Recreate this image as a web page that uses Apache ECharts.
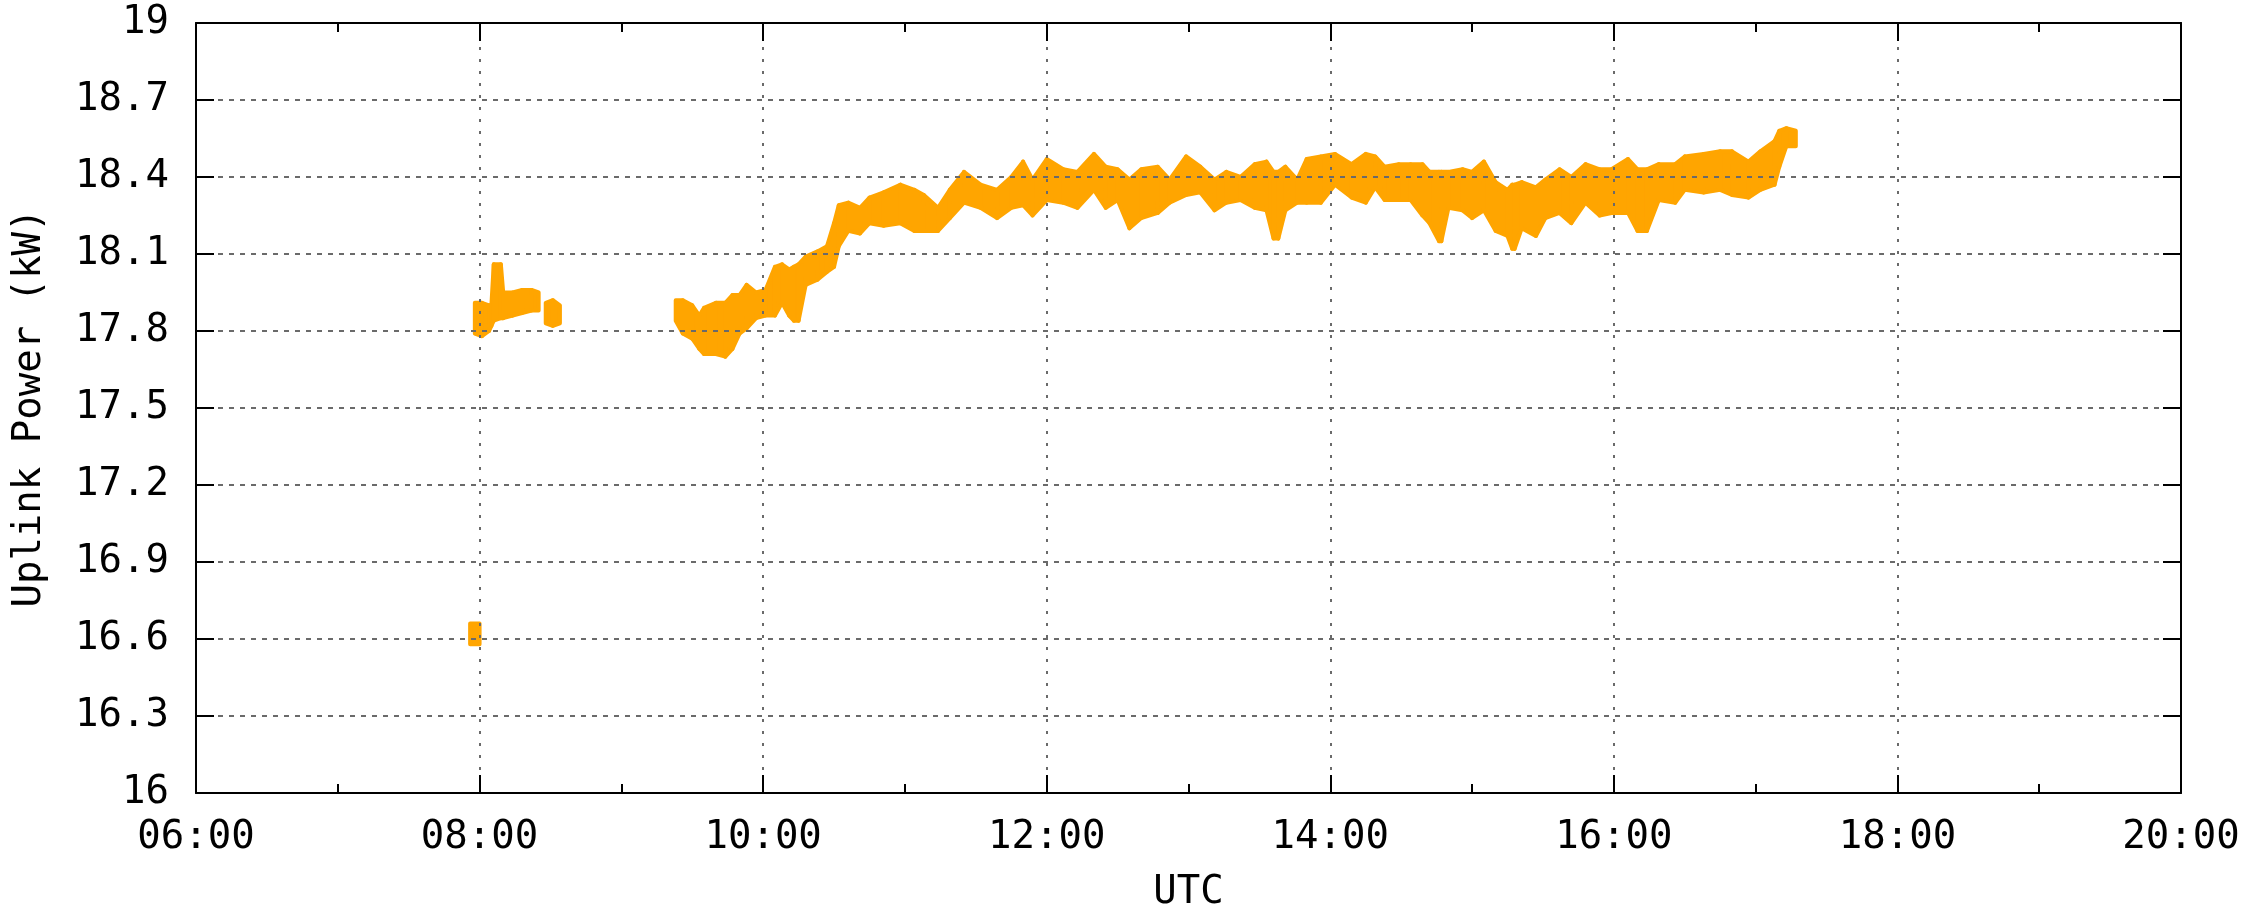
<!DOCTYPE html>
<html>
<head>
<meta charset="utf-8">
<script src="https://cdn.jsdelivr.net/npm/echarts@6/dist/echarts.min.js"></script>
<style>
  html, body { margin: 0; padding: 0; background: #fff; }
  #main { width: 2257px; height: 917px; }
</style>
</head>
<body>
<div id="main"></div>
<script>
// 时间 (UTC) —— null 表示断开
const times = [
  '07:56', '08:00', null,
  '07:58', '08:01', '08:04', '08:05', '08:06', '08:09', '08:10', '08:14', '08:18', '08:22', '08:25', null,
  '08:28', '08:31', '08:34', null,
  '09:23', '09:26', '09:30', '09:33', '09:35', '09:40', '09:44', '09:47', '09:50', '09:53', '09:57',
  '10:01', '10:05', '10:08', '10:11', '10:13', '10:15', '10:18', '10:23', '10:27', '10:30', '10:32', '10:36',
  '10:41', '10:45', '10:51', '10:58', '11:04', '11:08', '11:14', '11:19', '11:25', '11:32', '11:39', '11:45',
  '11:50', '11:54', '12:00', '12:07', '12:13', '12:20', '12:25', '12:30', '12:35', '12:40', '12:47', '12:52',
  '12:59', '13:05', '13:11', '13:16', '13:22', '13:28', '13:33', '13:36', '13:38', '13:41', '13:46', '13:50',
  '13:56', '14:02', '14:09', '14:15', '14:19', '14:23', '14:29', '14:34', '14:39', '14:42', '14:46', '14:47',
  '14:50', '14:56', '15:00', '15:05', '15:10', '15:15', '15:17', '15:18', '15:21', '15:27', '15:31', '15:37',
  '15:42', '15:48', '15:54', '15:59', '16:06', '16:10', '16:14', '16:19', '16:26', '16:30', '16:38', '16:45',
  '16:50', '16:57', '17:02', '17:08', '17:10', '17:13', '17:17'
]
// 下沿 (kW)
const lower = [
  16.58, 16.58, null,
  17.79, 17.78, 17.80, 17.82, 17.84, 17.85, 17.85, 17.86, 17.87, 17.88, 17.88, null,
  17.83, 17.82, 17.83, null,
  17.84, 17.79, 17.77, 17.73, 17.71, 17.71, 17.70, 17.73, 17.79, 17.81, 17.85,
  17.86, 17.86, 17.91, 17.86, 17.84, 17.84, 17.98, 18.00, 18.03, 18.05, 18.13, 18.19,
  18.18, 18.22, 18.21, 18.22, 18.19, 18.19, 18.19, 18.24, 18.30, 18.28, 18.24, 18.28,
  18.29, 18.25, 18.31, 18.30, 18.28, 18.35, 18.28, 18.31, 18.20, 18.24, 18.26, 18.30,
  18.33, 18.34, 18.27, 18.30, 18.31, 18.28, 18.27, 18.16, 18.16, 18.27, 18.30, 18.30,
  18.30, 18.37, 18.32, 18.30, 18.36, 18.31, 18.31, 18.31, 18.25, 18.22, 18.15, 18.15,
  18.28, 18.27, 18.24, 18.27, 18.19, 18.17, 18.12, 18.12, 18.20, 18.17, 18.24, 18.26,
  18.22, 18.30, 18.25, 18.26, 18.26, 18.19, 18.19, 18.31, 18.30, 18.35, 18.34, 18.35,
  18.33, 18.32, 18.35, 18.37, 18.44, 18.52, 18.52
]
// 上沿 (kW)
const upper = [
  16.66, 16.66, null,
  17.91, 17.91, 17.90, 17.90, 18.06, 18.06, 17.95, 17.95, 17.96, 17.96, 17.95, null,
  17.91, 17.92, 17.90, null,
  17.92, 17.92, 17.90, 17.86, 17.89, 17.91, 17.91, 17.94, 17.94, 17.98, 17.95,
  17.96, 18.05, 18.06, 18.04, 18.05, 18.06, 18.09, 18.11, 18.13, 18.22, 18.29, 18.30,
  18.28, 18.32, 18.34, 18.37, 18.35, 18.33, 18.28, 18.35, 18.42, 18.37, 18.35, 18.40,
  18.46, 18.39, 18.47, 18.43, 18.42, 18.49, 18.44, 18.43, 18.39, 18.43, 18.44, 18.39,
  18.48, 18.44, 18.39, 18.42, 18.40, 18.45, 18.46, 18.42, 18.42, 18.44, 18.39, 18.47,
  18.48, 18.49, 18.45, 18.49, 18.48, 18.44, 18.45, 18.45, 18.45, 18.42, 18.42, 18.42,
  18.42, 18.43, 18.42, 18.46, 18.38, 18.35, 18.37, 18.37, 18.38, 18.36, 18.39, 18.43,
  18.40, 18.45, 18.43, 18.43, 18.47, 18.43, 18.43, 18.45, 18.45, 18.48, 18.49, 18.50,
  18.50, 18.46, 18.50, 18.54, 18.58, 18.59, 18.58
]

const ORANGE = '#ffa500'
const FONT = 'DejaVu Sans Mono'

// 'HH:MM' -> 小时数
function toHour(s) {
  const [h, m] = s.split(':').map(Number)
  return h + m / 60
}

// 相邻两点组成一个四边形 [x0, lo0, hi0, x1, lo1, hi1]
const pieces = []
for (let i = 0; i < times.length - 1; i++) {
  if (times[i] === null || times[i + 1] === null) continue
  pieces.push([
    toHour(times[i]), lower[i], upper[i],
    toHour(times[i + 1]), lower[i + 1], upper[i + 1]
  ])
}

function renderBand(params, api) {
  const x0 = api.value(0), lo0 = api.value(1), hi0 = api.value(2)
  const x1 = api.value(3), lo1 = api.value(4), hi1 = api.value(5)
  const pts = [
    api.coord([x0, hi0]),
    api.coord([x1, hi1]),
    api.coord([x1, lo1]),
    api.coord([x0, lo0])
  ]
  return {
    type: 'polygon',
    shape: { points: pts },
    style: { fill: ORANGE, stroke: ORANGE, lineWidth: 4, lineJoin: 'round' }
  }
}

const myChart = echarts.init(document.getElementById('main'))

const labelStyle = { fontFamily: FONT, fontSize: 39, color: '#000' }
const gridDash = { color: '#6a6a6a', width: 2 }

const option = {
  animation: false,
  backgroundColor: '#fff',
  grid: { left: 196, right: 76, top: 23, bottom: 119 },
  xAxis: [{
    type: 'value',
    min: 6,
    max: 20,
    interval: 2,
    z: 5,
    name: 'UTC',
    nameLocation: 'middle',
    nameGap: 80,
    nameTextStyle: labelStyle,
    axisLine: { lineStyle: { color: '#000', width: 2 } },
    axisTick: { inside: true, length: 18, lineStyle: { color: '#000', width: 2 } },
    minorTick: { show: true, splitNumber: 2, length: 9, lineStyle: { color: '#000', width: 2 } },
    axisLabel: {
      ...labelStyle,
      margin: 25,
      formatter: v => String(v).padStart(2, '0') + ':00'
    },
    splitLine: { show: true, lineStyle: { ...gridDash, type: [3, 9] } }
  }, {
    type: 'value',
    position: 'top',
    min: 6,
    max: 20,
    interval: 2,
    z: 5,
    axisLine: { lineStyle: { color: '#000', width: 2 } },
    axisTick: { inside: true, length: 18, lineStyle: { color: '#000', width: 2 } },
    minorTick: { show: true, splitNumber: 2, length: 9, lineStyle: { color: '#000', width: 2 } },
    axisLabel: { show: false },
    splitLine: { show: false }
  }],
  yAxis: [{
    type: 'value',
    min: 16,
    max: 19,
    interval: 0.3,
    z: 5,
    name: 'Uplink Power (kW)',
    nameLocation: 'middle',
    nameGap: 147,
    nameTextStyle: labelStyle,
    axisLine: { lineStyle: { color: '#000', width: 2 } },
    axisTick: { inside: true, length: 18, lineStyle: { color: '#000', width: 2 } },
    axisLabel: {
      ...labelStyle,
      margin: 27,
      formatter: v => String(Number(v.toFixed(1)))
    },
    splitLine: { show: true, lineStyle: { ...gridDash, type: [5, 6] } }
  }, {
    type: 'value',
    position: 'right',
    min: 16,
    max: 19,
    interval: 0.3,
    z: 5,
    axisLine: { lineStyle: { color: '#000', width: 2 } },
    axisTick: { inside: true, length: 18, lineStyle: { color: '#000', width: 2 } },
    axisLabel: { show: false },
    splitLine: { show: false }
  }],
  series: [
    {
      name: 'Uplink Power',
      type: 'custom',
      renderItem: renderBand,
      encode: { x: [0, 3], y: [1, 2, 4, 5] },
      data: pieces,
      clip: true,
      z: 2
    }
  ]
}
myChart.setOption(option)
</script>
</body>
</html>
